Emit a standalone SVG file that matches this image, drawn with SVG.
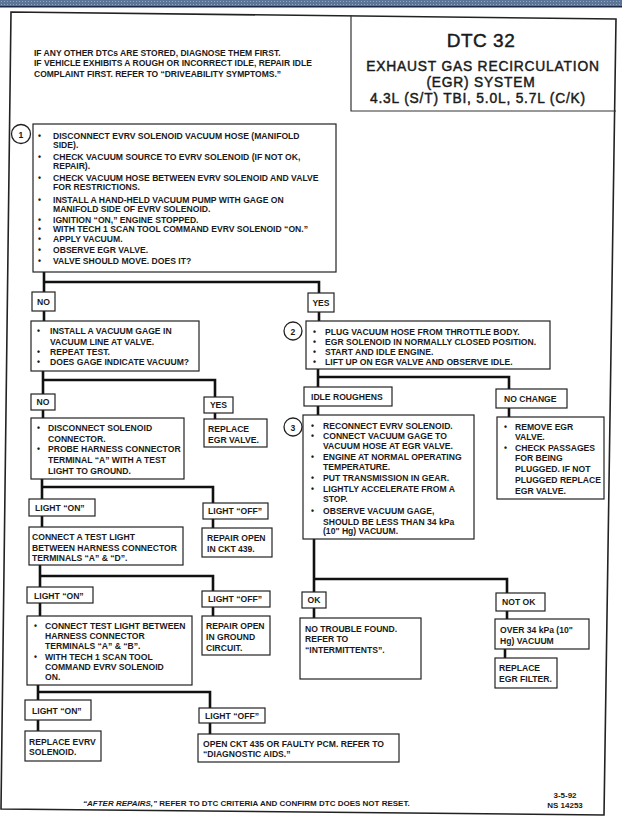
<svg xmlns="http://www.w3.org/2000/svg" width="622" height="829" viewBox="0 0 622 829">
<defs>
<pattern id="dots" width="3" height="3" patternUnits="userSpaceOnUse">
<rect width="3" height="3" fill="#5b7597"/>
<rect x="1" y="1" width="1" height="1" fill="#93a7c2"/>
</pattern>
</defs>
<style>
.t{font-family:"Liberation Sans",Arial,sans-serif;font-weight:bold;font-size:8.6px;fill:#1a1a1a}
.s{font-size:8px}
.n{font-size:8.5px}
.h{font-family:"Liberation Sans",Arial,sans-serif;fill:#1a1a1a;stroke:#1a1a1a;stroke-width:0.45;text-anchor:middle;font-size:13.8px;letter-spacing:0.8px}
.c{text-anchor:middle}
.box{fill:#fff;stroke:#222;stroke-width:1.2}
.num{fill:#fff;stroke:#222;stroke-width:1.3}
.con{fill:none;stroke:#111;stroke-width:2.6}
</style>
<rect width="622" height="829" fill="#fff"/>
<rect x="0" y="0" width="622" height="6" fill="url(#dots)"/>
<rect x="0" y="6" width="622" height="1.5" fill="#1c2944"/>
<polygon points="11,12 616,19 604,815 1,809" fill="none" stroke="#222" stroke-width="1.6"/>

<g id="title">
<polyline points="351,15 351,111 616,111" fill="none" stroke="#333" stroke-width="1.2"/>
<text class="h" x="481" y="47" style="font-size:19px;letter-spacing:0.5px">DTC 32</text>
<text class="h" x="483" y="70.5">EXHAUST GAS RECIRCULATION</text>
<text class="h" x="481" y="86.5">(EGR) SYSTEM</text>
<text class="h" x="478" y="102.5">4.3L (S/T) TBI, 5.0L, 5.7L (C/K)</text>
</g>

<g id="note">
<text class="t n" x="34" y="55.5">IF ANY OTHER DTCs ARE STORED, DIAGNOSE THEM FIRST.</text>
<text class="t n" x="34" y="66">IF VEHICLE EXHIBITS A ROUGH OR INCORRECT IDLE, REPAIR IDLE</text>
<text class="t n" x="34" y="76.5">COMPLAINT FIRST.  REFER TO “DRIVEABILITY SYMPTOMS.”</text>
</g>

<g id="connectors">
<path class="con" d="M44,272 V292 M44,282 H319 V293"/>
<path class="con" d="M44,311 V321"/>
<path class="con" d="M43,371 V394 M43,380 H215 V397"/>
<path class="con" d="M43,410 V418 M215,413 V419"/>
<path class="con" d="M42,479 V499 M42,487 H213 V503"/>
<path class="con" d="M42,516 V527 M213,519 V528"/>
<path class="con" d="M40,565 V587 M40,576 H213 V591"/>
<path class="con" d="M40,603 V616 M213,607 V616"/>
<path class="con" d="M38,685 V700 M38,692 H210 V708"/>
<path class="con" d="M38,720 V731 M210,723 V734"/>
<path class="con" d="M319,312 V321"/>
<path class="con" d="M318,369 V387 M318,377 H509 V389"/>
<path class="con" d="M318,406 V415 M509,408 V417"/>
<path class="con" d="M314,539 V592 M314,579 H507 V593"/>
<path class="con" d="M314,608 V618 M507,611 V619"/>
<path class="con" d="M505,649 V658"/>
</g>

<g id="step1">
<circle class="num" cx="21" cy="134" r="9.5"/>
<text class="t c" x="21" y="137.5" font-size="9.5">1</text>
<rect class="box" x="33" y="124" width="303" height="148"/>
<text class="t" x="38" y="139">•</text><text class="t" x="53" y="139">DISCONNECT EVRV SOLENOID VACUUM HOSE (MANIFOLD</text>
<text class="t" x="53" y="147.5">SIDE).</text>
<text class="t" x="38" y="160">•</text><text class="t" x="53" y="160">CHECK VACUUM SOURCE TO EVRV SOLENOID (IF NOT OK,</text>
<text class="t" x="53" y="168.5">REPAIR).</text>
<text class="t" x="38" y="180.5">•</text><text class="t" x="53" y="180.5">CHECK VACUUM HOSE BETWEEN EVRV SOLENOID AND VALVE</text>
<text class="t" x="53" y="190">FOR RESTRICTIONS.</text>
<text class="t" x="38" y="202.5">•</text><text class="t" x="53" y="202.5">INSTALL A HAND-HELD VACUUM PUMP WITH GAGE ON</text>
<text class="t" x="53" y="211.5">MANIFOLD SIDE OF EVRV SOLENOID.</text>
<text class="t" x="38" y="222.5">•</text><text class="t" x="53" y="222.5">IGNITION “ON,” ENGINE STOPPED.</text>
<text class="t" x="38" y="232">•</text><text class="t" x="53" y="232">WITH TECH 1 SCAN TOOL COMMAND EVRV SOLENOID “ON.”</text>
<text class="t" x="38" y="242">•</text><text class="t" x="53" y="242">APPLY VACUUM.</text>
<text class="t" x="38" y="253">•</text><text class="t" x="53" y="253">OBSERVE EGR VALVE.</text>
<text class="t" x="38" y="264">•</text><text class="t" x="53" y="264">VALVE SHOULD MOVE.  DOES IT?</text>
</g>

<g id="no1">
<rect class="box" x="32" y="292" width="23" height="19"/>
<text class="t c" x="43.5" y="304.5">NO</text>
</g>
<g id="yes1">
<rect class="box" x="308" y="293" width="26" height="19"/>
<text class="t c" x="321" y="305.5">YES</text>
</g>

<g id="gage">
<rect class="box" x="31" y="321" width="168" height="50"/>
<text class="t" x="37" y="334">•</text><text class="t" x="50" y="334">INSTALL A VACUUM GAGE IN</text>
<text class="t" x="50" y="344.5">VACUUM LINE AT VALVE.</text>
<text class="t" x="37" y="354.5">•</text><text class="t" x="50" y="354.5">REPEAT TEST.</text>
<text class="t" x="37" y="365">•</text><text class="t" x="50" y="365">DOES GAGE INDICATE VACUUM?</text>
</g>

<g id="no2">
<rect class="box" x="31" y="394" width="24" height="16"/>
<text class="t c" x="43" y="405">NO</text>
</g>
<g id="yes2">
<rect class="box" x="204" y="397" width="29" height="16"/>
<text class="t c" x="218.5" y="408">YES</text>
</g>
<g id="replaceegr">
<rect class="box" x="204" y="419" width="63" height="28"/>
<text class="t" x="208" y="432">REPLACE</text>
<text class="t" x="208" y="443">EGR VALVE.</text>
</g>

<g id="disconnect">
<rect class="box" x="31" y="418" width="153" height="61"/>
<text class="t" x="37" y="431">•</text><text class="t" x="48" y="431">DISCONNECT SOLENOID</text>
<text class="t" x="48" y="441.5">CONNECTOR.</text>
<text class="t" x="37" y="452">•</text><text class="t" x="48" y="452">PROBE HARNESS CONNECTOR</text>
<text class="t" x="48" y="463">TERMINAL “A” WITH A TEST</text>
<text class="t" x="48" y="474">LIGHT TO GROUND.</text>
</g>

<g id="on1">
<rect class="box" x="29" y="499" width="66" height="17"/>
<text class="t" x="35" y="510.5">LIGHT “ON”</text>
</g>
<g id="off1">
<rect class="box" x="203" y="503" width="65" height="16"/>
<text class="t" x="208" y="514">LIGHT “OFF”</text>
</g>
<g id="testad">
<rect class="box" x="29" y="527" width="154" height="38"/>
<text class="t" x="32" y="540">CONNECT A TEST LIGHT</text>
<text class="t" x="32" y="550.5">BETWEEN HARNESS CONNECTOR</text>
<text class="t" x="32" y="561">TERMINALS “A” &amp; “D”.</text>
</g>
<g id="ckt439">
<rect class="box" x="202" y="528" width="70" height="29"/>
<text class="t" x="207" y="541">REPAIR OPEN</text>
<text class="t" x="207" y="552">IN CKT 439.</text>
</g>

<g id="on2">
<rect class="box" x="27" y="587" width="66" height="16"/>
<text class="t" x="34" y="598.5">LIGHT “ON”</text>
</g>
<g id="off2">
<rect class="box" x="202" y="591" width="68" height="16"/>
<text class="t" x="208" y="602">LIGHT “OFF”</text>
</g>
<g id="testab">
<rect class="box" x="27" y="616" width="165" height="69"/>
<text class="t" x="34" y="629">•</text><text class="t" x="45" y="629">CONNECT TEST LIGHT BETWEEN</text>
<text class="t" x="45" y="639">HARNESS CONNECTOR</text>
<text class="t" x="45" y="649">TERMINALS “A” &amp; “B”.</text>
<text class="t" x="34" y="660">•</text><text class="t" x="45" y="660">WITH TECH 1 SCAN TOOL</text>
<text class="t" x="45" y="670">COMMAND EVRV SOLENOID</text>
<text class="t" x="45" y="680">ON.</text>
</g>
<g id="ground">
<rect class="box" x="202" y="616" width="68" height="39"/>
<text class="t" x="206" y="629">REPAIR OPEN</text>
<text class="t" x="206" y="640">IN GROUND</text>
<text class="t" x="206" y="650.5">CIRCUIT.</text>
</g>

<g id="on3">
<rect class="box" x="25" y="700" width="66" height="20"/>
<text class="t" x="32" y="713.5">LIGHT “ON”</text>
</g>
<g id="off3">
<rect class="box" x="199" y="708" width="66" height="15"/>
<text class="t" x="205" y="718.5">LIGHT “OFF”</text>
</g>
<g id="evrv">
<rect class="box" x="25" y="731" width="76" height="30"/>
<text class="t" x="29" y="745">REPLACE EVRV</text>
<text class="t" x="29" y="755">SOLENOID.</text>
</g>
<g id="ckt435">
<rect class="box" x="198" y="734" width="201" height="28"/>
<text class="t" x="203" y="747">OPEN CKT 435 OR FAULTY PCM.  REFER TO</text>
<text class="t" x="203" y="757">“DIAGNOSTIC AIDS.”</text>
</g>

<g id="step2">
<circle class="num" cx="293" cy="331" r="9"/>
<text class="t c" x="293" y="334.5" font-size="9.5">2</text>
<rect class="box" x="306" y="321" width="244" height="48"/>
<text class="t" x="313" y="335">•</text><text class="t" x="325" y="335">PLUG VACUUM HOSE FROM THROTTLE BODY.</text>
<text class="t" x="313" y="345">•</text><text class="t" x="325" y="345">EGR SOLENOID IN NORMALLY CLOSED POSITION.</text>
<text class="t" x="313" y="355">•</text><text class="t" x="325" y="355">START AND IDLE ENGINE.</text>
<text class="t" x="313" y="365">•</text><text class="t" x="325" y="365">LIFT UP ON EGR VALVE AND OBSERVE IDLE.</text>
</g>

<g id="rough">
<rect class="box" x="304" y="387" width="88" height="19"/>
<text class="t" x="311" y="400">IDLE ROUGHENS</text>
</g>
<g id="nochange">
<rect class="box" x="496" y="389" width="71" height="19"/>
<text class="t" x="504" y="401.5">NO CHANGE</text>
</g>

<g id="step3">
<circle class="num" cx="293" cy="427" r="9"/>
<text class="t c" x="293" y="430.5" font-size="9.5">3</text>
<rect class="box" x="303" y="415" width="171" height="124"/>
<text class="t" x="311" y="429">•</text><text class="t" x="323" y="429">RECONNECT EVRV SOLENOID.</text>
<text class="t" x="311" y="439">•</text><text class="t" x="323" y="439">CONNECT VACUUM GAGE TO</text>
<text class="t" x="323" y="449">VACUUM HOSE AT EGR VALVE.</text>
<text class="t" x="311" y="460">•</text><text class="t" x="323" y="460">ENGINE AT NORMAL OPERATING</text>
<text class="t" x="323" y="470">TEMPERATURE.</text>
<text class="t" x="311" y="481">•</text><text class="t" x="323" y="481">PUT TRANSMISSION IN GEAR.</text>
<text class="t" x="311" y="492">•</text><text class="t" x="323" y="492">LIGHTLY ACCELERATE FROM A</text>
<text class="t" x="323" y="501.5">STOP.</text>
<text class="t" x="311" y="514">•</text><text class="t" x="323" y="514">OBSERVE VACUUM GAGE,</text>
<text class="t" x="323" y="524.5">SHOULD BE LESS THAN 34 kPa</text>
<text class="t" x="323" y="534">(10" Hg) VACUUM.</text>
</g>

<g id="remove">
<rect class="box" x="497" y="417" width="107" height="82"/>
<text class="t" x="504" y="430">•</text><text class="t" x="515" y="430">REMOVE EGR</text>
<text class="t" x="515" y="440">VALVE.</text>
<text class="t" x="504" y="451">•</text><text class="t" x="515" y="451">CHECK PASSAGES</text>
<text class="t" x="515" y="461">FOR BEING</text>
<text class="t" x="515" y="472">PLUGGED.  IF NOT</text>
<text class="t" x="515" y="483">PLUGGED REPLACE</text>
<text class="t" x="515" y="494">EGR VALVE.</text>
</g>

<g id="ok">
<rect class="box" x="302" y="592" width="24" height="16"/>
<text class="t c" x="314" y="603">OK</text>
</g>
<g id="notok">
<rect class="box" x="496" y="593" width="49" height="18"/>
<text class="t" x="502" y="605">NOT OK</text>
</g>
<g id="ntf">
<rect class="box" x="300" y="618" width="121" height="61"/>
<text class="t" x="305" y="632">NO TROUBLE FOUND.</text>
<text class="t" x="305" y="642">REFER TO</text>
<text class="t" x="305" y="653">“INTERMITTENTS”.</text>
</g>
<g id="over">
<rect class="box" x="495" y="619" width="94" height="30"/>
<text class="t" x="500" y="633">OVER  34 kPa (10"</text>
<text class="t" x="500" y="644">Hg) VACUUM</text>
</g>
<g id="filter">
<rect class="box" x="495" y="658" width="62" height="30"/>
<text class="t" x="499" y="671">REPLACE</text>
<text class="t" x="499" y="682">EGR FILTER.</text>
</g>

<g id="footer">
<text class="t s" x="83" y="806"><tspan font-style="italic">“AFTER REPAIRS,”</tspan> REFER TO DTC CRITERIA  AND CONFIRM DTC DOES NOT RESET.</text>
<text class="t s c" x="565" y="798">3-5-92</text>
<text class="t s c" x="565" y="808">NS 14253</text>
</g>
</svg>
